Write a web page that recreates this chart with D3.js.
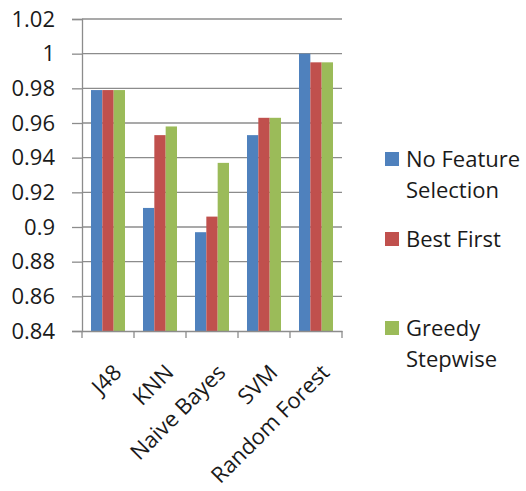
<!DOCTYPE html>
<html>
<head>
<meta charset="utf-8">
<script src="https://cdn.jsdelivr.net/npm/d3@7"></script>
<style>
  html, body { margin: 0; padding: 0; background: #fff; }
  svg text { font-family: "Open Sans", "Liberation Sans", sans-serif; fill: #1a1a1a; }
</style>
</head>
<body>
<svg id="chart" width="526" height="491"></svg>
<script>
// Classifier accuracy by feature-selection method
const categories = ["J48", "KNN", "Naive Bayes", "SVM", "Random Forest"];
const seriesNames = ["No Feature Selection", "Best First", "Greedy Stepwise"];
const noFeatureSelection = [0.979, 0.911, 0.897, 0.953, 1.000];
const bestFirst          = [0.979, 0.953, 0.906, 0.963, 0.995];
const greedyStepwise     = [0.979, 0.958, 0.937, 0.963, 0.995];
const yTicks = [0.84, 0.86, 0.88, 0.9, 0.92, 0.94, 0.96, 0.98, 1, 1.02];
const colors = ["#4F81BD", "#C0504D", "#9BBB59"];

const seriesValues = [noFeatureSelection, bestFirst, greedyStepwise];
const svg = d3.select("#chart");
const fontSize = 22;

const plot = { left: 82, right: 342, top: 19, bottom: 331 };

const x = d3.scaleBand().domain(categories).range([plot.left, plot.right]).paddingInner(0).paddingOuter(0);
const groupWidth = x.bandwidth() * 0.654;
const xs = d3.scaleBand().domain(seriesNames).range([0, groupWidth]);
const y = d3.scaleLinear().domain([0.84, 1.02]).range([plot.bottom, plot.top]);

// horizontal gridlines
svg.append("g")
  .selectAll("line")
  .data(yTicks.slice(1))
  .join("line")
  .attr("x1", plot.left).attr("x2", plot.right)
  .attr("y1", d => y(d)).attr("y2", d => y(d))
  .attr("stroke", "#8c8c8c").attr("stroke-width", 1.3);

// y axis
const yAxis = svg.append("g")
  .attr("transform", `translate(${plot.left},0)`)
  .call(d3.axisLeft(y).tickValues(yTicks).tickFormat(d3.format("")).tickSize(10).tickPadding(17));
yAxis.select(".domain").attr("stroke", "#8c8c8c").attr("stroke-width", 1.3);
yAxis.selectAll(".tick line").attr("stroke", "#8c8c8c").attr("stroke-width", 1.3);
yAxis.selectAll(".tick text").attr("font-size", fontSize).attr("fill", "#1a1a1a")
  .attr("font-family", "'Open Sans', sans-serif");

// bars
const groups = svg.append("g")
  .selectAll("g")
  .data(categories)
  .join("g")
  .attr("transform", d => `translate(${x(d) + (x.bandwidth() - groupWidth) / 2},0)`);

groups.selectAll("rect")
  .data((c, i) => seriesNames.map((s, j) => ({ s, j, v: seriesValues[j][i] })))
  .join("rect")
  .attr("x", d => xs(d.s))
  .attr("width", xs.bandwidth())
  .attr("y", d => y(d.v))
  .attr("height", d => y(0.84) - y(d.v))
  .attr("fill", d => colors[d.j]);

// x axis
const xAxis = svg.append("g")
  .attr("transform", `translate(0,${plot.bottom})`)
  .call(d3.axisBottom(x).tickSize(0).tickFormat(""));
xAxis.select(".domain").attr("stroke", "#8c8c8c").attr("stroke-width", 1.3);
// category boundary ticks
svg.append("g")
  .selectAll("line")
  .data(d3.range(categories.length + 1))
  .join("line")
  .attr("x1", i => plot.left + i * x.step()).attr("x2", i => plot.left + i * x.step())
  .attr("y1", plot.bottom).attr("y2", plot.bottom + 7)
  .attr("stroke", "#8c8c8c").attr("stroke-width", 1.3);

// rotated category labels
svg.append("g")
  .selectAll("text")
  .data(categories)
  .join("text")
  .attr("transform", d => `translate(${x(d) + x.bandwidth() / 2 + 4},${plot.bottom + 32}) rotate(-45)`)
  .attr("text-anchor", "end")
  .attr("dy", "0.7em")
  .attr("font-size", fontSize)
  .text(d => d);

// legend
const legendItems = [
  { lines: ["No Feature", "Selection"], y: 152 },
  { lines: ["Best First"], y: 232 },
  { lines: ["Greedy", "Stepwise"], y: 321 }
];
const legend = svg.append("g");
legendItems.forEach((item, i) => {
  legend.append("rect")
    .attr("x", 385).attr("y", item.y)
    .attr("width", 14).attr("height", 14)
    .attr("fill", colors[i]);
  item.lines.forEach((ln, k) => {
    legend.append("text")
      .attr("x", 406).attr("y", item.y + 15 + k * 31)
      .attr("font-size", fontSize)
      .text(ln);
  });
});
</script>
</body>
</html>
